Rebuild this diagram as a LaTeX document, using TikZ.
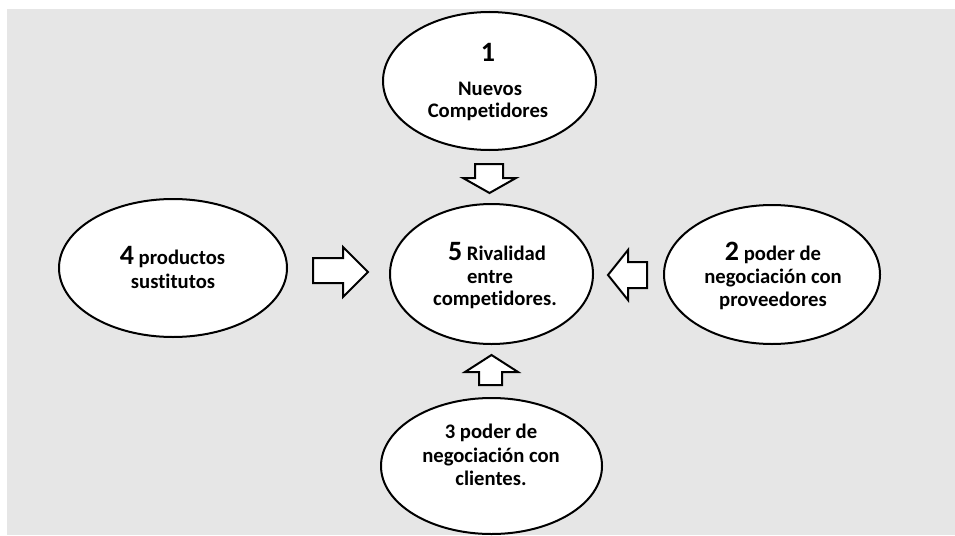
\documentclass[tikz,border=0pt]{standalone}
\usepackage{fontspec}
\setmainfont{Carlito}[Ligatures=NoCommon]
\usetikzlibrary{shapes.geometric}
\definecolor{bgray}{RGB}{230,230,230}
\tikzset{
  oval/.style={draw=black, line width=1.5pt, fill=white, ellipse, inner sep=0pt},
  blockarrow/.style={draw=black, line width=1.5pt, fill=white, line join=miter},
  txt/.style={anchor=base, inner sep=0pt, font=\fontsize{15.5}{17}\selectfont\bfseries},
  big/.style={font=\fontsize{21}{23}\selectfont\bfseries}
}
\newcommand{\bignum}[1]{{\fontsize{21}{23}\selectfont #1}}
\begin{document}
\begin{tikzpicture}[x=0.75pt, y=-0.75pt]
\useasboundingbox (0,0) rectangle (955,535);
\fill[bgray] (7,9) rectangle (955,535);

% ellipses
\node[oval, minimum width={213*0.75pt}, minimum height={138*0.75pt}] (e1) at (489.5,81) {};
\node[oval, minimum width={203*0.75pt}, minimum height={140*0.75pt}] (e5) at (491.5,274) {};
\node[oval, minimum width={228*0.75pt}, minimum height={138*0.75pt}] (e4) at (173,268) {};
\node[oval, minimum width={216*0.75pt}, minimum height={139*0.75pt}] (e2) at (772,274.5) {};
\node[oval, minimum width={221*0.75pt}, minimum height={136*0.75pt}] (e3) at (491.5,466) {};

% block arrows
% 1 -> 5 (down)
\draw[blockarrow] (475,164) -- (503,164) -- (503,178) -- (516,178) -- (489.5,193) -- (463,178) -- (475,178) -- cycle;
% 4 -> 5 (right)
\draw[blockarrow] (313,258) -- (343,258) -- (343,247) -- (368,272) -- (343,297) -- (343,283) -- (313,283) -- cycle;
% 2 -> 5 (left)
\draw[blockarrow] (647,262) -- (628,262) -- (628,250) -- (608,275) -- (628,300) -- (628,288) -- (647,288) -- cycle;
% 3 -> 5 (up)
\draw[blockarrow] (479,385) -- (502,385) -- (502,372) -- (518,372) -- (491.5,355) -- (465,372) -- (479,372) -- cycle;

% texts
\node[txt, big] (t1a) at (488,61) {1};
\node[txt] (t1b) at (490,95) {Nuevos};
\node[txt] (t1c) at (488,117) {Competidores};

\node[txt] (t5a) at (497,260) {\bignum{5} Rivalidad};
\node[txt] (t5b) at (490,283) {entre};
\node[txt] (t5c) at (495,305) {competidores.};

\node[txt] (t4a) at (172.5,264) {\bignum{4} productos};
\node[txt] (t4b) at (173,288) {sustitutos};

\node[txt] (t2a) at (773,260) {\bignum{2} poder de};
\node[txt] (t2b) at (773,283) {negociación con};
\node[txt] (t2c) at (773,306) {proveedores};

\node[txt] (t3a) at (491,438) {3 poder de};
\node[txt] (t3b) at (491,462) {negociación con};
\node[txt] (t3c) at (491,485) {clientes.};
\end{tikzpicture}
\end{document}
